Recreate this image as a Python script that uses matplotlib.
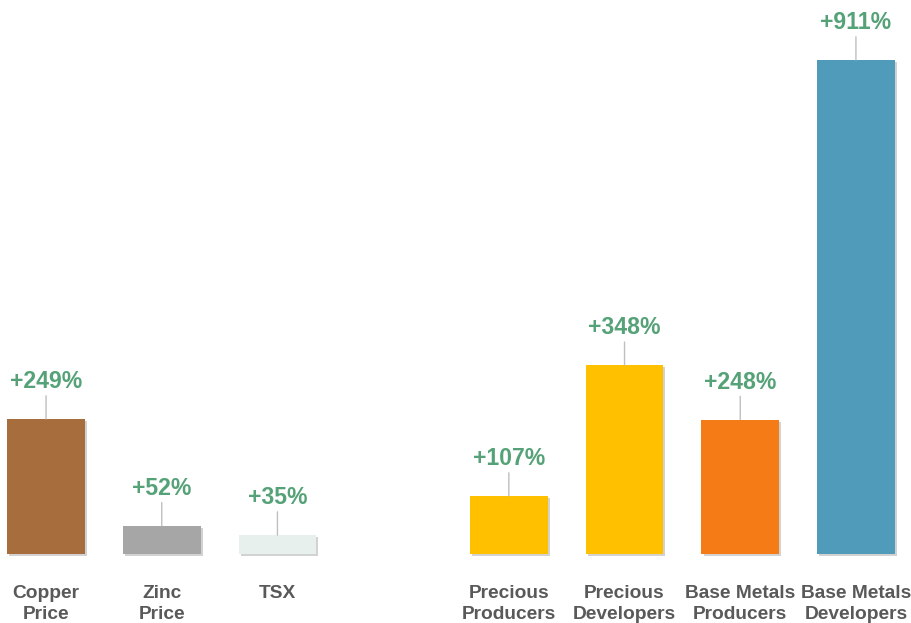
import matplotlib.pyplot as plt
import matplotlib.patheffects as pe

# data
categories = [
    "Copper\nPrice",
    "Zinc\nPrice",
    "TSX",
    "Precious\nProducers",
    "Precious\nDevelopers",
    "Base Metals\nProducers",
    "Base Metals\nDevelopers",
]
positions = [0, 1, 2, 4, 5, 6, 7]
gains_pct = [249, 52, 35, 107, 348, 248, 911]
bar_colors = [
    "#A86D3D",
    "#A6A6A6",
    "#E7F0EC",
    "#FFC000",
    "#FFC000",
    "#F47B16",
    "#509BBA",
]

LABEL_GREEN = "#56A278"
TEXT_GRAY = "#595959"
LEADER_GRAY = "#BFBFBF"

plt.rcParams["font.family"] = ["Liberation Sans", "DejaVu Sans"]

fig = plt.figure(figsize=(9.11, 6.23), dpi=100)
ax = fig.add_axes([0, 0, 1, 1])

bars = ax.bar(positions, gains_pct, width=0.67, color=bar_colors, zorder=2)
shadow = [pe.SimplePatchShadow(offset=(1.5, -1.5), shadow_rgbFace="#7f7f7f", alpha=0.35), pe.Normal()]
for b in bars:
    b.set_path_effects(shadow)

for x, v in zip(positions, gains_pct):
    ax.annotate(
        f"+{v}%",
        xy=(x, v),
        xytext=(0, 27),
        textcoords="offset points",
        ha="center",
        va="center",
        fontsize=16.6,
        fontweight="bold",
        color=LABEL_GREEN,
        arrowprops=dict(arrowstyle="-", color=LEADER_GRAY, lw=1, shrinkA=0, shrinkB=0),
        zorder=3,
    )

for x, name in zip(positions, categories):
    ax.annotate(
        name,
        xy=(x, 0),
        xytext=(0, -22.5),
        textcoords="offset points",
        ha="center",
        va="top",
        fontsize=13.8,
        fontweight="bold",
        color=TEXT_GRAY,
        linespacing=1.32,
    )

ax.set_xlim(-0.398, 7.476)
ax.set_ylim(-127.2, 1021.6)
ax.axis("off")

fig.savefig("out.png", dpi=100)
